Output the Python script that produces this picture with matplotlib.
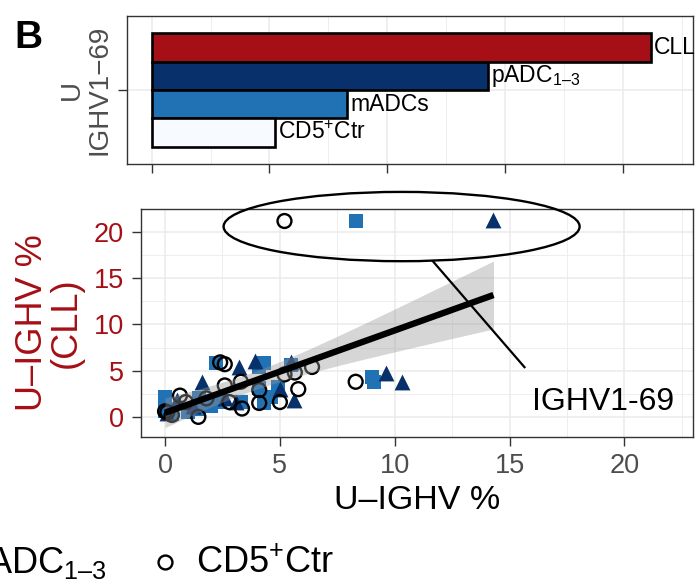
import numpy as np
import matplotlib
matplotlib.use("Agg")
import matplotlib.pyplot as plt
from matplotlib.patches import Ellipse
from matplotlib.lines import Line2D

plt.rcParams['font.family'] = ['Liberation Sans', 'DejaVu Sans']
plt.rcParams['mathtext.fontset'] = 'custom'
plt.rcParams['mathtext.rm'] = 'Liberation Sans'
plt.rcParams['mathtext.it'] = 'Liberation Sans:italic'
plt.rcParams['mathtext.bf'] = 'Liberation Sans:bold'

# ---------------- data ----------------
bar_groups = ["CLL", "pADC$_{\\mathregular{1\u20133}}$", "mADCs", "CD5$^{\\mathregular{+}}$Ctr"]
bar_values = [21.2, 14.3, 8.3, 5.25]
bar_colors = ["#a50f15", "#08306b", "#2171b5", "#f7fbff"]
bar_category = "U\nIGHV1\u221269"

# scatter: x = U-IGHV % in group, y = U-IGHV % in CLL
padc_x = [14.3, 3.9, 5.5, 3.2, 9.6, 10.3, 1.6, 5.0, 0.5, 3.1, 5.6, 1.2, 0.1, 2.6]
padc_y = [21.3, 6.1, 5.9, 5.4, 4.7, 3.8, 3.8, 3.0, 1.8, 1.6, 1.8, 1.2, 0.4, 2.0]
madc_x = [8.3, 2.2, 4.3, 4.1, 5.5, 9.0, 9.1, 4.1, 4.9, 0.0, 4.6, 1.5, 2.4, 3.3, 4.3, 0.0, 0.3, 1.0, 1.5, 2.0]
madc_y = [21.2, 5.8, 5.8, 5.4, 5.6, 4.3, 3.8, 3.1, 3.2, 2.15, 2.2, 2.0, 1.6, 1.6, 1.5, 0.6, 0.3, 0.5, 0.8, 1.2]
ctr_x = [5.2, 2.4, 2.6, 6.4, 5.65, 5.2, 8.3, 3.3, 2.6, 5.8, 4.1, 0.65, 1.8, 0.9, 2.8, 4.1, 5.0, 3.35, 0.1, 0.0, 1.45, 0.3]
ctr_y = [21.2, 5.9, 5.7, 5.4, 4.8, 4.6, 3.8, 3.8, 3.4, 3.0, 2.9, 2.3, 2.0, 1.6, 1.6, 1.5, 1.6, 0.9, 0.5, 0.6, 0.0, 0.2]

x_ticks = [0, 5, 10, 15, 20]
y_ticks = [0, 5, 10, 15, 20]
annot_label = "IGHV1-69"
legend_labels = ["pADC$_{\\mathregular{1\u20133}}$", "CD5$^{\\mathregular{+}}$Ctr"]

RED = "#a50f15"
GRAY_TXT = "#4d4d4d"
GRID = "#ebebeb"
SPINE = "#333333"

W, H = 695, 582
fig = plt.figure(figsize=(W / 100, H / 100), dpi=100)


def rect(l, t, r, b):
    return [l / W, 1 - b / H, (r - l) / W, (b - t) / H]


XLIM = (-1.06, 23.0)


def style(ax):
    for s in ax.spines.values():
        s.set_color(SPINE)
        s.set_linewidth(1.0)
    ax.tick_params(axis='both', which='major', length=6.5, width=1.0, color=SPINE)
    ax.tick_params(axis='both', which='minor', length=0)
    ax.set_axisbelow(True)


# ---------------- top bar panel ----------------
ax1 = fig.add_axes(rect(126.7, 15.7, 693.3, 164))
style(ax1)
nb = len(bar_values)
bh = 0.9 / nb
ypos = [0.45 - bh / 2 - i * bh for i in range(nb)]
ax1.barh(ypos, bar_values, height=bh, color=bar_colors, edgecolor='black',
         linewidth=1.9, zorder=3)
for yv, v, lab in zip(ypos, bar_values, bar_groups):
    ax1.text(v + 0.12, yv, lab, ha='left', va='center', fontsize=16.5, color='black', zorder=4)
ax1.set_xlim(*XLIM)
ax1.set_ylim(-0.5885, 0.5885)
ax1.set_xticks(x_ticks)
ax1.set_xticks([t + 2.5 for t in x_ticks], minor=True)
ax1.set_xticklabels([])
ax1.set_yticks([0])
ax1.set_yticklabels([bar_category], rotation=90, va='center', ha='right',
                    multialignment='center', fontsize=20, color=GRAY_TXT, linespacing=1.05)
ax1.tick_params(axis='y', pad=4)
ax1.grid(True, which='major', color=GRID, linewidth=1.1)
ax1.grid(True, which='minor', axis='x', color=GRID, linewidth=0.6)

# ---------------- bottom scatter panel ----------------
ax2 = fig.add_axes(rect(140.7, 209, 693.3, 437))
style(ax2)
ax2.set_xlim(*XLIM)
ax2.set_ylim(-2.18, 22.33)
ax2.set_xticks(x_ticks)
ax2.set_yticks(y_ticks)
ax2.set_xticks([t + 2.5 for t in x_ticks], minor=True)
ax2.set_yticks([t + 2.5 for t in y_ticks], minor=True)
ax2.grid(True, which='major', color=GRID, linewidth=1.1)
ax2.grid(True, which='minor', color=GRID, linewidth=0.6)
ax2.tick_params(axis='x', labelsize=19.5, labelcolor=GRAY_TXT, pad=5)
ax2.tick_params(axis='y', labelsize=19.5, labelcolor=RED, pad=5.5)

ax2.scatter(madc_x, madc_y, marker='s', s=95, color="#2171b5", linewidths=0, zorder=3)
ax2.scatter(padc_x, padc_y, marker='^', s=130, color="#08306b", linewidths=0, zorder=3)
ax2.scatter(ctr_x, ctr_y, marker='o', s=100, facecolors='none', edgecolors='black',
            linewidths=1.7, zorder=3)

# linear fit with 95% confidence band (all points)
X = np.array(padc_x + madc_x + ctr_x, dtype=float)
Y = np.array(padc_y + madc_y + ctr_y, dtype=float)
n = len(X)
b1, b0 = np.polyfit(X, Y, 1)
resid = Y - (b0 + b1 * X)
s = np.sqrt(np.sum(resid ** 2) / (n - 2))
xbar = X.mean()
sxx = np.sum((X - xbar) ** 2)
nu = n - 2
z = 1.959964
tq = z + (z ** 3 + z) / (4 * nu) + (5 * z ** 5 + 16 * z ** 3 + 3 * z) / (96 * nu ** 2)
xs = np.linspace(X.min(), X.max(), 100)
ys = b0 + b1 * xs
se = s * np.sqrt(1 / n + (xs - xbar) ** 2 / sxx)
ax2.fill_between(xs, ys - tq * se, ys + tq * se, color='#999999', alpha=0.4,
                 linewidth=0, zorder=4)
ax2.plot(xs, ys, color='black', linewidth=4.6, solid_capstyle='butt', zorder=5)

# annotation
ell = Ellipse((10.3, 20.6), width=15.5, height=7.5, fill=False, edgecolor='black',
              linewidth=1.7, clip_on=False, zorder=6)
ax2.add_patch(ell)
ax2.plot([11.66, 15.65], [16.85, 5.38], color='black', linewidth=1.6, zorder=6)
ax2.text(19.08, 0.72, annot_label, ha='center', va='baseline', fontsize=23, color='black', zorder=6)

ax2.set_xlabel("U\u2013IGHV %", fontsize=24.5, color='black', labelpad=4)
ax2.set_ylabel("U\u2013IGHV %\n(CLL)", fontsize=26, color=RED, linespacing=0.95)
ax2.yaxis.set_label_coords((84 - 140.7) / 552.6, 0.5)

# ---------------- panel tag ----------------
fig.text(14 / W, 1 - 20 / H, "B", fontsize=28, fontweight='bold', ha='left', va='top')

# ---------------- legend (partly outside the canvas) ----------------
ly = 1 - 573 / H
fig.text(107 / W, ly, legend_labels[0], fontsize=26, ha='right', va='baseline')
fig.add_artist(Line2D([165 / W], [1 - 562 / H], marker='o', markersize=10, markerfacecolor='none',
                      markeredgecolor='black', markeredgewidth=1.7, linestyle='none',
                      transform=fig.transFigure))
fig.text(196 / W, ly, legend_labels[1], fontsize=26, ha='left', va='baseline')

fig.savefig("out.png", dpi=100)
